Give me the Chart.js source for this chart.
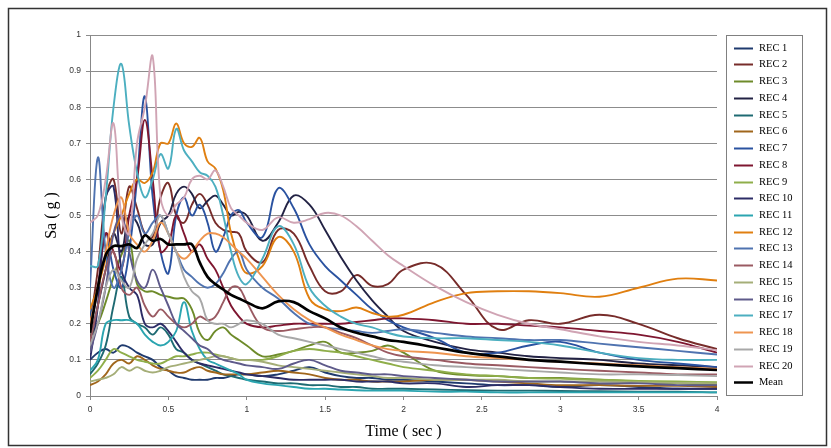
<!DOCTYPE html>
<html><head><meta charset="utf-8">
<script src="https://cdn.jsdelivr.net/npm/chart.js@4"></script>
<style>html,body{margin:0;padding:0;background:#fff}canvas{display:block}</style>
</head><body>
<canvas id="c" width="831" height="448"></canvas>
<script>
const T = [0,0.05,0.1,0.15,0.2,0.25,0.3,0.35,0.4,0.45,0.5,0.55,0.6,0.65,0.7,0.75,0.8,0.85,0.9,0.95,1,1.1,1.2,1.3,1.4,1.5,1.6,1.7,1.8,1.9,2,2.2,2.4,2.6,2.8,3,3.25,3.5,3.75,4];
const REC1 = [0.10,0.12,0.13,0.12,0.14,0.135,0.12,0.11,0.10,0.08, 0.07,0.055,0.05,0.045,0.045,0.045,0.05,0.05,0.055,0.06, 0.06,0.055,0.06,0.07,0.08,0.065,0.055,0.05,0.05,0.045,0.045, 0.04,0.035,0.03,0.03,0.025, 0.03,0.025,0.02,0.02];
const REC2 = [0.2,0.35,0.55,0.6,0.45,0.58,0.52,0.45,0.44,0.55, 0.59,0.5,0.48,0.53,0.56,0.53,0.48,0.46,0.455,0.45, 0.4,0.37,0.46,0.45,0.36,0.29,0.29,0.335,0.305,0.31,0.35, 0.365,0.28,0.185,0.21,0.2, 0.225,0.2,0.16,0.13];
const REC3 = [0.165,0.2,0.26,0.33,0.39,0.43,0.31,0.29,0.29,0.28, 0.275,0.27,0.27,0.24,0.175,0.155,0.18,0.19,0.17,0.155, 0.14,0.11,0.115,0.125,0.14,0.15,0.12,0.12,0.125,0.14,0.12, 0.07,0.058,0.055,0.05,0.05, 0.045,0.04,0.035,0.03];
const REC4 = [0.15,0.25,0.35,0.45,0.4,0.5,0.48,0.42,0.42,0.48, 0.5,0.56,0.58,0.56,0.52,0.54,0.555,0.53,0.5,0.51, 0.5,0.43,0.48,0.555,0.53,0.46,0.385,0.32,0.265,0.22,0.18, 0.15,0.13,0.12,0.11,0.105, 0.1,0.09,0.085,0.08];
const REC5 = [0.06,0.09,0.14,0.25,0.33,0.22,0.2,0.19,0.17,0.19, 0.17,0.13,0.12,0.1,0.09,0.08,0.07,0.06,0.055,0.05, 0.045,0.04,0.035,0.035,0.03,0.03,0.025,0.025,0.02,0.02,0.02, 0.018,0.016,0.015,0.015,0.014, 0.013,0.012,0.012,0.01];
const REC6 = [0.03,0.04,0.06,0.09,0.10,0.09,0.11,0.10,0.085,0.075, 0.07,0.065,0.065,0.075,0.08,0.07,0.065,0.06,0.06,0.06, 0.06,0.065,0.07,0.065,0.06,0.05,0.045,0.045,0.04,0.04,0.04, 0.045,0.045,0.04,0.035,0.03, 0.03,0.028,0.028,0.025];
const REC7 = [0.22,0.3,0.45,0.35,0.3,0.4,0.6,0.83,0.55,0.4, 0.34,0.5,0.55,0.5,0.53,0.48,0.4,0.44,0.5,0.515, 0.48,0.44,0.575,0.52,0.42,0.36,0.32,0.28,0.24,0.21,0.19, 0.16,0.12,0.12,0.14,0.15, 0.12,0.1,0.09,0.08];
const REC8 = [0.18,0.3,0.45,0.4,0.35,0.5,0.6,0.765,0.6,0.4, 0.42,0.5,0.45,0.4,0.42,0.38,0.35,0.3,0.25,0.22, 0.2,0.19,0.195,0.2,0.2,0.2,0.2,0.205,0.21,0.215,0.215, 0.21,0.2,0.2,0.195,0.19, 0.18,0.17,0.15,0.12];
const REC9 = [0.05,0.07,0.1,0.13,0.12,0.11,0.1,0.095,0.09,0.09, 0.1,0.11,0.11,0.115,0.12,0.12,0.115,0.11,0.105,0.1, 0.1,0.1,0.11,0.125,0.13,0.125,0.12,0.11,0.1,0.09,0.08, 0.07,0.06,0.055,0.05,0.048, 0.045,0.042,0.04,0.038];
const REC10 = [0.1,0.25,0.55,0.58,0.35,0.3,0.28,0.2,0.19,0.2, 0.18,0.15,0.12,0.1,0.09,0.085,0.08,0.075,0.07,0.065, 0.06,0.055,0.05,0.045,0.045,0.045,0.045,0.04,0.04,0.04,0.035, 0.035,0.025,0.03,0.03,0.025, 0.02,0.02,0.02,0.02];
const REC11 = [0.07,0.1,0.2,0.21,0.21,0.21,0.2,0.17,0.15,0.14, 0.15,0.18,0.26,0.18,0.13,0.1,0.09,0.08,0.07,0.06, 0.045,0.035,0.03,0.025,0.02,0.02,0.018,0.016,0.015,0.015,0.015, 0.012,0.012,0.01,0.01,0.01, 0.01,0.01,0.01,0.01];
const REC12 = [0.24,0.3,0.38,0.45,0.5,0.56,0.6,0.59,0.62,0.7, 0.7,0.755,0.7,0.69,0.715,0.65,0.63,0.57,0.45,0.38, 0.34,0.36,0.44,0.40,0.27,0.24,0.235,0.245,0.23,0.22,0.225, 0.26,0.285,0.29,0.29,0.285, 0.275,0.3,0.325,0.32];
const REC13 = [0.3,0.66,0.4,0.3,0.35,0.45,0.5,0.45,0.48,0.5, 0.45,0.4,0.35,0.33,0.31,0.3,0.31,0.34,0.38,0.4, 0.35,0.3,0.27,0.23,0.2,0.19,0.185,0.18,0.175,0.18,0.185, 0.175,0.165,0.16,0.155,0.155, 0.145,0.135,0.125,0.115];
const REC14 = [0.15,0.25,0.35,0.4,0.3,0.28,0.3,0.25,0.22,0.24, 0.22,0.2,0.19,0.2,0.22,0.21,0.22,0.26,0.3,0.3, 0.26,0.19,0.18,0.185,0.19,0.19,0.175,0.16,0.14,0.12,0.11, 0.1,0.09,0.085,0.08,0.075, 0.07,0.065,0.06,0.06];
const REC15 = [0.04,0.045,0.05,0.06,0.08,0.07,0.08,0.07,0.065,0.07, 0.08,0.085,0.09,0.095,0.1,0.105,0.11,0.11,0.105,0.1, 0.1,0.095,0.085,0.08,0.075,0.07,0.065,0.06,0.055,0.05,0.05, 0.045,0.045,0.045,0.04,0.04, 0.04,0.038,0.036,0.035];
const REC16 = [0.12,0.2,0.3,0.45,0.5,0.4,0.32,0.3,0.35,0.3, 0.25,0.2,0.18,0.16,0.14,0.13,0.11,0.1,0.095,0.09, 0.085,0.08,0.075,0.09,0.1,0.085,0.07,0.065,0.06,0.06,0.055, 0.05,0.045,0.04,0.04,0.04, 0.035,0.035,0.03,0.03];
const REC17 = [0.36,0.36,0.55,0.8,0.92,0.75,0.62,0.55,0.6,0.67, 0.63,0.74,0.68,0.65,0.62,0.61,0.58,0.5,0.4,0.33, 0.31,0.38,0.47,0.42,0.3,0.25,0.22,0.2,0.19,0.175,0.165, 0.16,0.16,0.155,0.15,0.14, 0.12,0.105,0.1,0.1];
const REC18 = [0.2,0.3,0.4,0.5,0.55,0.45,0.42,0.4,0.43,0.48, 0.45,0.4,0.38,0.4,0.43,0.45,0.45,0.44,0.42,0.4, 0.38,0.33,0.28,0.24,0.21,0.19,0.17,0.155,0.14,0.13,0.125, 0.12,0.11,0.105,0.1,0.095, 0.09,0.085,0.08,0.075];
const REC19 = [0.14,0.2,0.3,0.35,0.32,0.3,0.38,0.42,0.45,0.5, 0.45,0.4,0.33,0.29,0.27,0.21,0.2,0.2,0.19,0.2, 0.21,0.2,0.17,0.16,0.15,0.14,0.13,0.12,0.11,0.1,0.095, 0.085,0.08,0.075,0.07,0.065, 0.06,0.06,0.058,0.055];
const REC20 = [0.48,0.5,0.6,0.755,0.5,0.45,0.7,0.8,0.94,0.55, 0.5,0.53,0.55,0.6,0.61,0.6,0.625,0.58,0.52,0.5, 0.48,0.46,0.495,0.48,0.49,0.507,0.5,0.47,0.43,0.39,0.36, 0.305,0.26,0.225,0.2,0.185, 0.165,0.15,0.14,0.127];
const MEAN = [0.175,0.3,0.39,0.415,0.415,0.42,0.41,0.445,0.43,0.435, 0.42,0.42,0.42,0.42,0.37,0.33,0.31,0.295,0.28,0.27, 0.26,0.243,0.262,0.26,0.235,0.215,0.19,0.175,0.165,0.155,0.15, 0.135,0.12,0.11,0.1,0.095, 0.088,0.082,0.077,0.072];

const SERIES_NAMES = ['REC 1','REC 2','REC 3','REC 4','REC 5','REC 6','REC 7','REC 8','REC 9','REC 10','REC 11','REC 12','REC 13','REC 14','REC 15','REC 16','REC 17','REC 18','REC 19','REC 20','Mean'];
const SERIES_VALUES = [REC1,REC2,REC3,REC4,REC5,REC6,REC7,REC8,REC9,REC10,REC11,REC12,REC13,REC14,REC15,REC16,REC17,REC18,REC19,REC20,MEAN];
const X_TICKS = [0,0.5,1,1.5,2,2.5,3,3.5,4];

const COLORS = ['#1F3A6E','#772C2A','#6E8B2A','#222244','#1E6A72','#A0661C','#2A52A0','#7E1630','#8FAE4A','#2C2C66','#2BA5B0','#E07F10','#4F73B0','#9A5A62','#A5AE78','#5E5A8A','#4CAFC0','#EE9550','#A8A8A8','#D0A4B4','#000000'];

const datasets = SERIES_NAMES.map((name,k)=>({
  label: name,
  data: T.map((t,i)=>({x:t,y:SERIES_VALUES[k][i]})),
  borderColor: COLORS[k],
  backgroundColor: COLORS[k],
  borderWidth: name==='Mean'?2.7:1.9,
  pointRadius: 0,
  tension: 0.4,
  fill: false,
  order: name==='Mean'?0:(22-k)
}));

const legendPlugin = {
  id:'boxLegend',
  afterDraw(chart){
    const ctx = chart.ctx;
    ctx.save();
    ctx.strokeStyle='#808080'; ctx.lineWidth=1;
    ctx.strokeRect(726.5,35.5,76,360);
    ctx.font = '10.5px "Liberation Serif"';
    ctx.textBaseline='middle'; ctx.textAlign='left'; ctx.fillStyle='#000';
    chart.data.datasets.forEach((ds,i)=>{
      const y = Math.round(47.7 + i*16.73)+0.5;
      ctx.strokeStyle = ds.borderColor; ctx.lineWidth = ds.label==='Mean'?2.5:2;
      ctx.beginPath(); ctx.moveTo(734,y); ctx.lineTo(753,y); ctx.stroke();
      ctx.fillText(ds.label, 759, y);
    });
    ctx.strokeStyle='#333'; ctx.lineWidth=1.5;
    ctx.strokeRect(8.5,8.5,818,437);
    ctx.restore();
  }
};

new Chart(document.getElementById('c'), {
  type:'line',
  data:{datasets},
  options:{
    responsive:false, animation:false, devicePixelRatio:1,
    layout:{padding:{left:0,right:114,top:35,bottom:0}},
    plugins:{legend:{display:false},tooltip:{enabled:false}},
    scales:{
      x:{type:'linear',min:0,max:4,
        afterBuildTicks(s){ s.ticks = X_TICKS.map(v=>({value:v})); },
        afterFit(s){ s.height = 52; },
        ticks:{padding:5,color:'#333',font:{family:'Liberation Sans',size:8.5},maxRotation:0,
          callback:v=>String(v)},
        grid:{drawOnChartArea:false,drawTicks:true,tickLength:4,color:'#888'},
        border:{display:true,color:'#888'},
        title:{display:true,text:'Time ( sec )',color:'#000',font:{family:'Liberation Serif',size:16},padding:{top:0,bottom:7}}
      },
      y:{min:0,max:1,
        afterFit(s){ s.width = 90; },
        ticks:{stepSize:0.1,padding:5,color:'#333',font:{family:'Liberation Sans',size:8.5},
          callback:v=>String(Math.round(v*10)/10)},
        grid:{color:'#8c8c8c',drawTicks:true,tickLength:4},
        border:{display:true,color:'#888'},
        title:{display:true,text:'Sa ( g )',color:'#000',font:{family:'Liberation Serif',size:16},padding:{top:42,bottom:0}}
      }
    }
  },
  plugins:[legendPlugin]
});
</script>
</body></html>
